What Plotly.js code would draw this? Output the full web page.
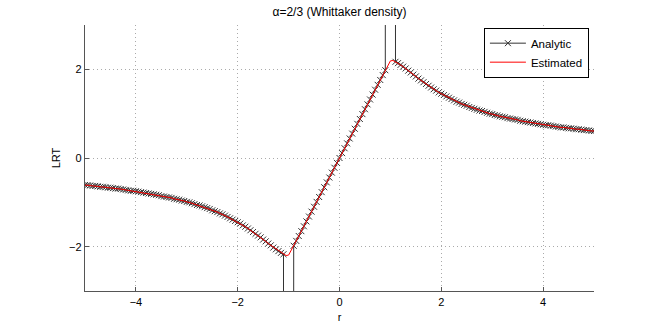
<!DOCTYPE html>
<html>
<head>
<meta charset="utf-8">
<script src="https://cdn.plot.ly/plotly-3.0.1.min.js"></script>
<style>html,body{margin:0;padding:0;background:#fff;}#chart{width:654px;height:327px;}</style>
</head>
<body>
<div id="chart"></div>
<script>
// r grid from -5 to 5 step 0.05
const r = [-5.00,-4.95,-4.90,-4.85,-4.80,-4.75,-4.70,-4.65,-4.60,-4.55,-4.50,-4.45,-4.40,-4.35,-4.30,-4.25,-4.20,-4.15,-4.10,-4.05,
-4.00,-3.95,-3.90,-3.85,-3.80,-3.75,-3.70,-3.65,-3.60,-3.55,-3.50,-3.45,-3.40,-3.35,-3.30,-3.25,-3.20,-3.15,-3.10,-3.05,
-3.00,-2.95,-2.90,-2.85,-2.80,-2.75,-2.70,-2.65,-2.60,-2.55,-2.50,-2.45,-2.40,-2.35,-2.30,-2.25,-2.20,-2.15,-2.10,-2.05,
-2.00,-1.95,-1.90,-1.85,-1.80,-1.75,-1.70,-1.65,-1.60,-1.55,-1.50,-1.45,-1.40,-1.35,-1.30,-1.25,-1.20,-1.15,-1.10,-1.05,
-1.00,-0.95,-0.90,-0.85,-0.80,-0.75,-0.70,-0.65,-0.60,-0.55,-0.50,-0.45,-0.40,-0.35,-0.30,-0.25,-0.20,-0.15,-0.10,-0.05,
0.00,0.05,0.10,0.15,0.20,0.25,0.30,0.35,0.40,0.45,0.50,0.55,0.60,0.65,0.70,0.75,0.80,0.85,0.90,0.95,
1.00,1.05,1.10,1.15,1.20,1.25,1.30,1.35,1.40,1.45,1.50,1.55,1.60,1.65,1.70,1.75,1.80,1.85,1.90,1.95,
2.00,2.05,2.10,2.15,2.20,2.25,2.30,2.35,2.40,2.45,2.50,2.55,2.60,2.65,2.70,2.75,2.80,2.85,2.90,2.95,
3.00,3.05,3.10,3.15,3.20,3.25,3.30,3.35,3.40,3.45,3.50,3.55,3.60,3.65,3.70,3.75,3.80,3.85,3.90,3.95,
4.00,4.05,4.10,4.15,4.20,4.25,4.30,4.35,4.40,4.45,4.50,4.55,4.60,4.65,4.70,4.75,4.80,4.85,4.90,4.95,5.00];

// Analytic LRT: blows up near |r| = 1 (drawn as near-vertical lines off the axes)
const analytic = [-0.61,-0.61,-0.62,-0.63,-0.63,-0.64,-0.65,-0.65,-0.66,-0.67,-0.67,-0.68,-0.69,-0.69,-0.70,-0.71,-0.72,-0.73,-0.74,-0.74,
-0.75,-0.76,-0.77,-0.78,-0.79,-0.80,-0.81,-0.82,-0.83,-0.84,-0.86,-0.87,-0.88,-0.89,-0.90,-0.92,-0.93,-0.94,-0.96,-0.97,
-0.99,-1.00,-1.02,-1.04,-1.06,-1.07,-1.09,-1.11,-1.13,-1.15,-1.18,-1.20,-1.22,-1.25,-1.27,-1.30,-1.33,-1.36,-1.39,-1.42,
-1.45,-1.48,-1.52,-1.55,-1.59,-1.63,-1.67,-1.71,-1.75,-1.79,-1.84,-1.88,-1.93,-1.97,-2.02,-2.06,-2.10,-2.14,-2.17,-1000,
-1000,-1000,-1.98,-1.87,-1.76,-1.65,-1.54,-1.43,-1.32,-1.21,-1.10,-0.99,-0.88,-0.77,-0.66,-0.55,-0.44,-0.33,-0.22,-0.11,
0.00,0.11,0.22,0.33,0.44,0.55,0.66,0.77,0.88,0.99,1.10,1.21,1.32,1.43,1.54,1.65,1.76,1.87,1.98,1000,
1000,1000,2.17,2.14,2.10,2.06,2.02,1.97,1.93,1.88,1.84,1.79,1.75,1.71,1.67,1.63,1.59,1.55,1.52,1.48,
1.45,1.42,1.39,1.36,1.33,1.30,1.27,1.25,1.22,1.20,1.18,1.15,1.13,1.11,1.09,1.07,1.06,1.04,1.02,1.00,
0.99,0.97,0.96,0.94,0.93,0.92,0.90,0.89,0.88,0.87,0.86,0.84,0.83,0.82,0.81,0.80,0.79,0.78,0.77,0.76,
0.75,0.74,0.74,0.73,0.72,0.71,0.70,0.69,0.69,0.68,0.67,0.67,0.66,0.65,0.65,0.64,0.63,0.63,0.62,0.61,0.61];

const estimated = [-0.61,-0.61,-0.62,-0.63,-0.63,-0.64,-0.65,-0.65,-0.66,-0.67,-0.67,-0.68,-0.69,-0.69,-0.70,-0.71,-0.72,-0.73,-0.74,-0.74,
-0.75,-0.76,-0.77,-0.78,-0.79,-0.80,-0.81,-0.82,-0.83,-0.84,-0.86,-0.87,-0.88,-0.89,-0.90,-0.92,-0.93,-0.94,-0.96,-0.97,
-0.99,-1.00,-1.02,-1.04,-1.06,-1.07,-1.09,-1.11,-1.13,-1.15,-1.18,-1.20,-1.22,-1.25,-1.27,-1.30,-1.33,-1.36,-1.39,-1.42,
-1.45,-1.48,-1.52,-1.55,-1.59,-1.63,-1.67,-1.71,-1.75,-1.79,-1.84,-1.88,-1.93,-1.97,-2.02,-2.06,-2.10,-2.14,-2.17,-2.20,
-2.19,-2.09,-1.98,-1.87,-1.76,-1.65,-1.54,-1.43,-1.32,-1.21,-1.10,-0.99,-0.88,-0.77,-0.66,-0.55,-0.44,-0.33,-0.22,-0.11,
0.00,0.11,0.22,0.33,0.44,0.55,0.66,0.77,0.88,0.99,1.10,1.21,1.32,1.43,1.54,1.65,1.76,1.87,1.98,2.09,
2.19,2.20,2.17,2.14,2.10,2.06,2.02,1.97,1.93,1.88,1.84,1.79,1.75,1.71,1.67,1.63,1.59,1.55,1.52,1.48,
1.45,1.42,1.39,1.36,1.33,1.30,1.27,1.25,1.22,1.20,1.18,1.15,1.13,1.11,1.09,1.07,1.06,1.04,1.02,1.00,
0.99,0.97,0.96,0.94,0.93,0.92,0.90,0.89,0.88,0.87,0.86,0.84,0.83,0.82,0.81,0.80,0.79,0.78,0.77,0.76,
0.75,0.74,0.74,0.73,0.72,0.71,0.70,0.69,0.69,0.68,0.67,0.67,0.66,0.65,0.65,0.64,0.63,0.63,0.62,0.61,0.61];

const xTicks = [-4,-2,0,2,4];
const yTicks = [-2,0,2];
const titleText = "α=2/3 (Whittaker density)";

const font = {family: "'Liberation Sans', Arial, Helvetica, sans-serif", size: 11, color: '#000'};
const traces = [
  {x: r, y: analytic, name: 'Analytic', type: 'scatter', mode: 'lines+markers',
   line: {color: '#333', width: 1},
   marker: {symbol: 'x-thin', size: 6, color: '#333', line: {color: '#333', width: 1}}},
  {x: r, y: estimated, name: 'Estimated', type: 'scatter', mode: 'lines',
   line: {color: '#ff0000', width: 1}}
];
const axisCommon = {showline: true, linecolor: '#555', linewidth: 1.3, ticks: 'inside', ticklen: 4,
  tickcolor: '#555', showgrid: true, gridcolor: '#aaa', griddash: '1px,3px', gridwidth: 1,
  zeroline: false, tickfont: font, mirror: false};
const layout = {
  width: 654, height: 327,
  margin: {l: 85, r: 60, t: 25, b: 36},
  paper_bgcolor: '#fff', plot_bgcolor: '#fff',
  font: font,
  title: {text: titleText, font: {family: font.family, size: 12, color: '#000'},
          x: 0.5, xref: 'paper', y: 1 - 12/327, yanchor: 'middle'},
  xaxis: Object.assign({}, axisCommon, {range: [-5, 5], tickvals: xTicks,
          title: {text: 'r', font: font, standoff: 6}}),
  yaxis: Object.assign({}, axisCommon, {range: [-3, 3], tickvals: yTicks,
          title: {text: 'LRT', font: font, standoff: 6}}),
  showlegend: true,
  legend: {x: 0.99, xanchor: 'right', y: 0.99, yanchor: 'top', bgcolor: '#fff',
           bordercolor: '#000', borderwidth: 1, font: {family: font.family, size: 11.5, color: '#000'},
           tracegroupgap: 0, itemwidth: 36}
};
Plotly.newPlot('chart', traces, layout, {staticPlot: true});
</script>
</body>
</html>
